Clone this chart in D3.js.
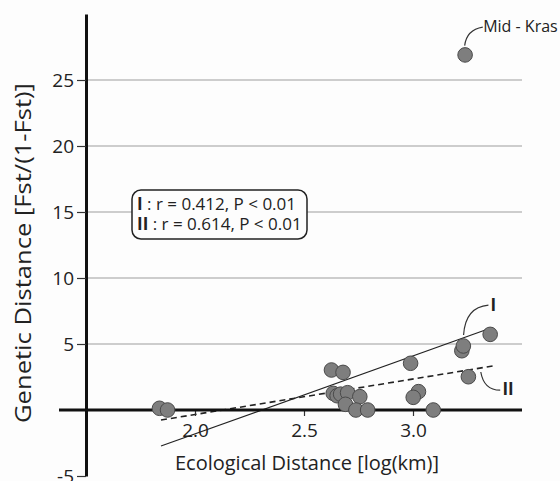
<!DOCTYPE html>
<html>
<head>
<meta charset="utf-8">
<script src="https://cdn.jsdelivr.net/npm/d3@7"></script>
<style>
  body { margin: 0; background: #fdfdfd; }
  svg { display: block; font-family: "Open Sans", sans-serif; }
</style>
</head>
<body>
<div id="chart"></div>
<script>
// ecological distance (log km) and genetic distance Fst/(1-Fst)
var ecoDist = [1.837, 1.874, 2.626, 2.679, 2.634, 2.652, 2.668, 2.700, 2.756, 2.690,
    2.738, 2.792, 2.989, 3.025, 3.001, 3.093, 3.224, 3.231, 3.254, 3.354, 3.239];
var genDist = [0.13, 0.0, 3.03, 2.85, 1.26, 1.08, 1.20, 1.31, 1.01, 0.43,
    0.0, 0.0, 3.54, 1.39, 0.96, 0.0, 4.49, 4.85, 2.52, 5.73, 26.9];

// regression line end points [x, y]
var lineI = [[1.844, -2.73], [3.354, 6.19]];
var lineII = [[1.844, -0.76], [3.365, 3.33]];

var yTicks = [-5, 5, 10, 15, 20, 25];
var gridTicks = [5, 10, 15, 20, 25];
var xTicks = [2.0, 2.5, 3.0];

var legendLines = [
    { id: 'I', text: ' : r = 0.412, P < 0.01' },
    { id: 'II', text: ' : r = 0.614, P < 0.01' }
];

var width = 560, height = 481;

var svg = d3.select('#chart').append('svg')
    .attr('width', width)
    .attr('height', height);

var x = d3.scaleLinear().domain([1.5, 3.5]).range([86, 522]);
var y = d3.scaleLinear().domain([-5, 30]).range([476, 14]);

// gridlines
svg.append('g').selectAll('line')
    .data(gridTicks)
    .enter().append('line')
    .attr('x1', x(1.5))
    .attr('x2', x(3.5))
    .attr('y1', function (d) { return y(d); })
    .attr('y2', function (d) { return y(d); })
    .style('stroke', '#bdbdbd')
    .style('stroke-width', 1.5);

// regression lines
var line = d3.line()
    .x(function (d) { return x(d[0]); })
    .y(function (d) { return y(d[1]); });

svg.append('path')
    .attr('d', line(lineI))
    .style('fill', 'none')
    .style('stroke', '#222')
    .style('stroke-width', 1.2);

svg.append('path')
    .attr('d', line(lineII))
    .style('fill', 'none')
    .style('stroke', '#222')
    .style('stroke-width', 1.6)
    .style('stroke-dasharray', '6,4');

// y axis
var yAxis = d3.axisLeft(y)
    .tickValues(yTicks)
    .tickFormat(function (d) { return String(d); })
    .tickSize(9)
    .tickSizeOuter(0)
    .tickPadding(3);

var yG = svg.append('g')
    .attr('transform', 'translate(' + x(1.5) + ',0)')
    .call(yAxis);
yG.select('.domain').style('stroke', '#111').style('stroke-width', 3);
yG.selectAll('.tick line').style('stroke', '#333').style('stroke-width', 1.2);
yG.selectAll('.tick text')
    .style('font-size', '19px')
    .style('fill', '#222')
    .style('font-family', '"Open Sans", sans-serif');

// x axis sits on zero
var xAxis = d3.axisBottom(x)
    .tickValues(xTicks)
    .tickFormat(d3.format('.1f'))
    .tickSize(6)
    .tickPadding(8);

var xG = svg.append('g')
    .attr('transform', 'translate(0,' + y(0) + ')')
    .call(xAxis);
xG.select('.domain').remove();
xG.selectAll('.tick line').style('stroke', '#333').style('stroke-width', 1.2);
xG.selectAll('.tick text')
    .style('font-size', '19px')
    .style('fill', '#222')
    .style('font-family', '"Open Sans", sans-serif');

// zero line
svg.append('line')
    .attr('x1', x(1.5) - 27)
    .attr('x2', x(3.5))
    .attr('y1', y(0))
    .attr('y2', y(0))
    .style('stroke', '#111')
    .style('stroke-width', 3);

// points
var points = ecoDist.map(function (d, i) { return { x: d, y: genDist[i] }; });

svg.append('g').selectAll('circle')
    .data(points)
    .enter().append('circle')
    .attr('cx', function (d) { return x(d.x); })
    .attr('cy', function (d) { return y(d.y); })
    .attr('r', 7.3)
    .style('fill', '#7e7e7e')
    .style('stroke', '#4a4a4a')
    .style('stroke-width', 1);

// axis titles
svg.append('text')
    .attr('x', 307)
    .attr('y', 470)
    .attr('text-anchor', 'middle')
    .style('font-size', '20px')
    .style('fill', '#222')
    .text('Ecological Distance [log(km)]');

svg.append('text')
    .attr('transform', 'translate(31,253) rotate(-90)')
    .attr('text-anchor', 'middle')
    .attr('textLength', 340)
    .attr('lengthAdjust', 'spacingAndGlyphs')
    .style('font-size', '21px')
    .style('fill', '#222')
    .text('Genetic Distance [Fst/(1-Fst)]');

// legend box
var legend = svg.append('g');
legend.append('rect')
    .attr('x', 132)
    .attr('y', 190)
    .attr('width', 175)
    .attr('height', 49)
    .attr('rx', 9)
    .style('fill', '#fdfdfd')
    .style('stroke', '#222')
    .style('stroke-width', 1.5);

var lt = legend.selectAll('text')
    .data(legendLines)
    .enter().append('text')
    .attr('x', 137)
    .attr('y', function (d, i) { return 210 + i * 20; })
    .style('font-size', '17px')
    .style('fill', '#222');
lt.append('tspan').style('font-weight', 'bold').text(function (d) { return d.id; });
lt.append('tspan').text(function (d) { return d.text; });

// annotations (leader curves), in data units: start, control, end
var notes = [
    { label: 'Mid - Kras', bold: false, size: 16, pts: [[3.237, 27.6], [3.246, 28.8], [3.32, 29.0]], tx: 3.322, ty: 28.6 },
    { label: 'I', bold: true, size: 17, pts: [[3.232, 5.68], [3.24, 7.8], [3.346, 7.95]], tx: 3.355, ty: 7.5 },
    { label: 'II', bold: true, size: 17, pts: [[3.311, 2.88], [3.325, 1.5], [3.40, 1.5]], tx: 3.41, ty: 1.15 }
];

notes.forEach(function (n) {
    var p = d3.path();
    p.moveTo(x(n.pts[0][0]), y(n.pts[0][1]));
    p.quadraticCurveTo(x(n.pts[1][0]), y(n.pts[1][1]), x(n.pts[2][0]), y(n.pts[2][1]));
    svg.append('path')
        .attr('d', p.toString())
        .style('fill', 'none')
        .style('stroke', '#333')
        .style('stroke-width', 1.2);
    svg.append('text')
        .attr('x', x(n.tx))
        .attr('y', y(n.ty))
        .style('font-size', n.size + 'px')
        .style('font-weight', n.bold ? 'bold' : 'normal')
        .style('fill', '#222')
        .text(n.label);
});
</script>
</body>
</html>
